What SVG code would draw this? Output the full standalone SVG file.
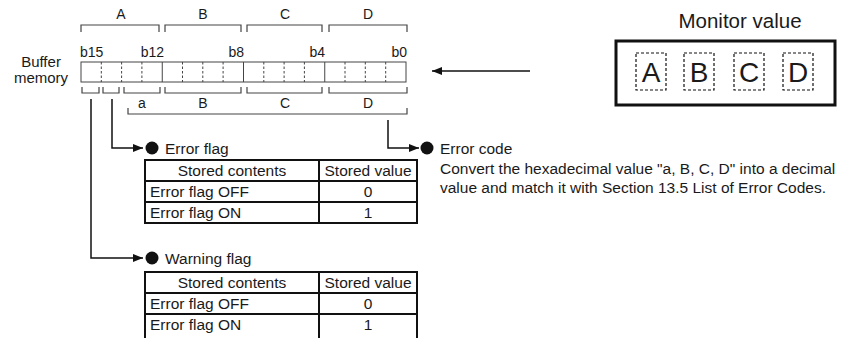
<svg xmlns="http://www.w3.org/2000/svg" width="853" height="338" viewBox="0 0 853 338">
<defs>
<marker id="ah" markerWidth="10" markerHeight="8" refX="10" refY="4" orient="auto" markerUnits="userSpaceOnUse">
<path d="M0,0 L10,4 L0,8 Z" fill="#111"/>
</marker>
<style>
text{font-family:"Liberation Sans",Arial,sans-serif;fill:#1a1a1a}
.t14{font-size:14px}
.tb{font-size:15.5px}
.br{fill:none;stroke:#444;stroke-width:1.2}
.cell{fill:none;stroke:#444;stroke-width:1}
.dash{stroke:#444;stroke-width:1;stroke-dasharray:2.5,2}
.tbl{fill:#fff;stroke:#111;stroke-width:2}
.conn{fill:none;stroke:#111;stroke-width:1.5}
.mid{text-anchor:middle}
.end{text-anchor:end}
</style>
</defs>
<rect width="853" height="338" fill="#fff"/>

<g id="buffer-memory">
<text class="mid" x="41" y="67" style="font-size:15px">Buffer</text>
<text class="mid" x="41" y="83" style="font-size:15px">memory</text>
<!-- top brackets -->
<path class="br" d="M81,32 V25 H159 V32 M165,32 V25 H241 V32 M247,32 V25 H322 V32 M329,32 V25 H407 V32"/>
<text class="t14 mid" x="121" y="19">A</text>
<text class="t14 mid" x="203" y="19">B</text>
<text class="t14 mid" x="285" y="19">C</text>
<text class="t14 mid" x="368" y="19">D</text>
<!-- bit labels -->
<text class="t14" x="80" y="57">b15</text>
<text class="t14 end" x="164" y="57">b12</text>
<text class="t14 end" x="244" y="57">b8</text>
<text class="t14 end" x="325" y="57">b4</text>
<text class="t14 end" x="407" y="57">b0</text>
<!-- register -->
<rect class="cell" x="81" y="62" width="325" height="20"/>
<path class="dash" d="M101.3,62 V82 M121.6,62 V82 M141.9,62 V82 M182.5,62 V82 M202.8,62 V82 M223.1,62 V82 M263.8,62 V82 M284.1,62 V82 M304.4,62 V82 M345,62 V82 M365.3,62 V82 M385.7,62 V82"/>
<path class="cell" d="M162.25,62 V82 M243.5,62 V82 M324.75,62 V82"/>
<!-- bottom brackets -->
<path class="br" d="M82,87 V93 H99 V87 M103,87 V93 H119 V87 M124,87 V93 H160 V87 M165,87 V93 H241 V87 M247,87 V93 H322 V87 M329,87 V93 H407 V87"/>
<text class="t14" x="138" y="108">a</text>
<text class="t14 mid" x="203" y="108">B</text>
<text class="t14 mid" x="285" y="108">C</text>
<text class="t14 mid" x="368" y="108">D</text>
<path class="br" d="M128,108 V114 H407 V108"/>
</g>

<g id="monitor-value">
<text class="mid" x="740" y="28" style="font-size:20.5px">Monitor value</text>
<rect x="616" y="41" width="219" height="64" fill="none" stroke="#111" stroke-width="3"/>
<g fill="none" stroke="#111" stroke-width="1.2" stroke-dasharray="3,2">
<rect x="636" y="53" width="30" height="37"/>
<rect x="684" y="53" width="30" height="37"/>
<rect x="734" y="53" width="30" height="37"/>
<rect x="783" y="53" width="30" height="37"/>
</g>
<text class="mid" x="651" y="82" style="font-size:28px">A</text>
<text class="mid" x="699" y="82" style="font-size:28px">B</text>
<text class="mid" x="749" y="82" style="font-size:28px">C</text>
<text class="mid" x="798" y="82" style="font-size:28px">D</text>
</g>

<g id="connectors">
<line class="conn" x1="530" y1="71" x2="432" y2="71" marker-end="url(#ah)"/>
<path class="conn" d="M112,99 V148 H143" marker-end="url(#ah)"/>
<path class="conn" d="M91,99 V258 H143" marker-end="url(#ah)"/>
<path class="conn" d="M388,120 V148 H419" marker-end="url(#ah)"/>
</g>

<g id="error-flag">
<circle cx="152" cy="148" r="6.5" fill="#111"/>
<text class="tb" x="165" y="154">Error flag</text>
<rect class="tbl" x="145" y="160" width="272" height="63"/>
<path class="tbl" d="M145,181 H417 M145,202 H417 M319,160 V223"/>
<text class="tb mid" x="232" y="176">Stored contents</text>
<text class="tb mid" x="368" y="176">Stored value</text>
<text class="tb" x="150" y="197">Error flag OFF</text>
<text class="tb mid" x="368" y="197">0</text>
<text class="tb" x="150" y="218">Error flag ON</text>
<text class="tb mid" x="368" y="218">1</text>
</g>

<g id="warning-flag">
<circle cx="152" cy="258" r="6.5" fill="#111"/>
<text class="tb" x="165" y="264">Warning flag</text>
<rect class="tbl" x="145" y="272" width="272" height="68"/>
<path class="tbl" d="M145,293 H417 M145,314 H417 M319,272 V340"/>
<text class="tb mid" x="232" y="288">Stored contents</text>
<text class="tb mid" x="368" y="288">Stored value</text>
<text class="tb" x="150" y="309">Error flag OFF</text>
<text class="tb mid" x="368" y="309">0</text>
<text class="tb" x="150" y="330">Error flag ON</text>
<text class="tb mid" x="368" y="330">1</text>
</g>

<g id="error-code">
<circle cx="427" cy="148" r="6.5" fill="#111"/>
<text class="tb" x="440" y="154">Error code</text>
<text class="tb" x="440" y="174">Convert the hexadecimal value "a, B, C, D" into a decimal</text>
<text class="tb" x="440" y="193">value and match it with Section 13.5 List of Error Codes.</text>
</g>
</svg>
